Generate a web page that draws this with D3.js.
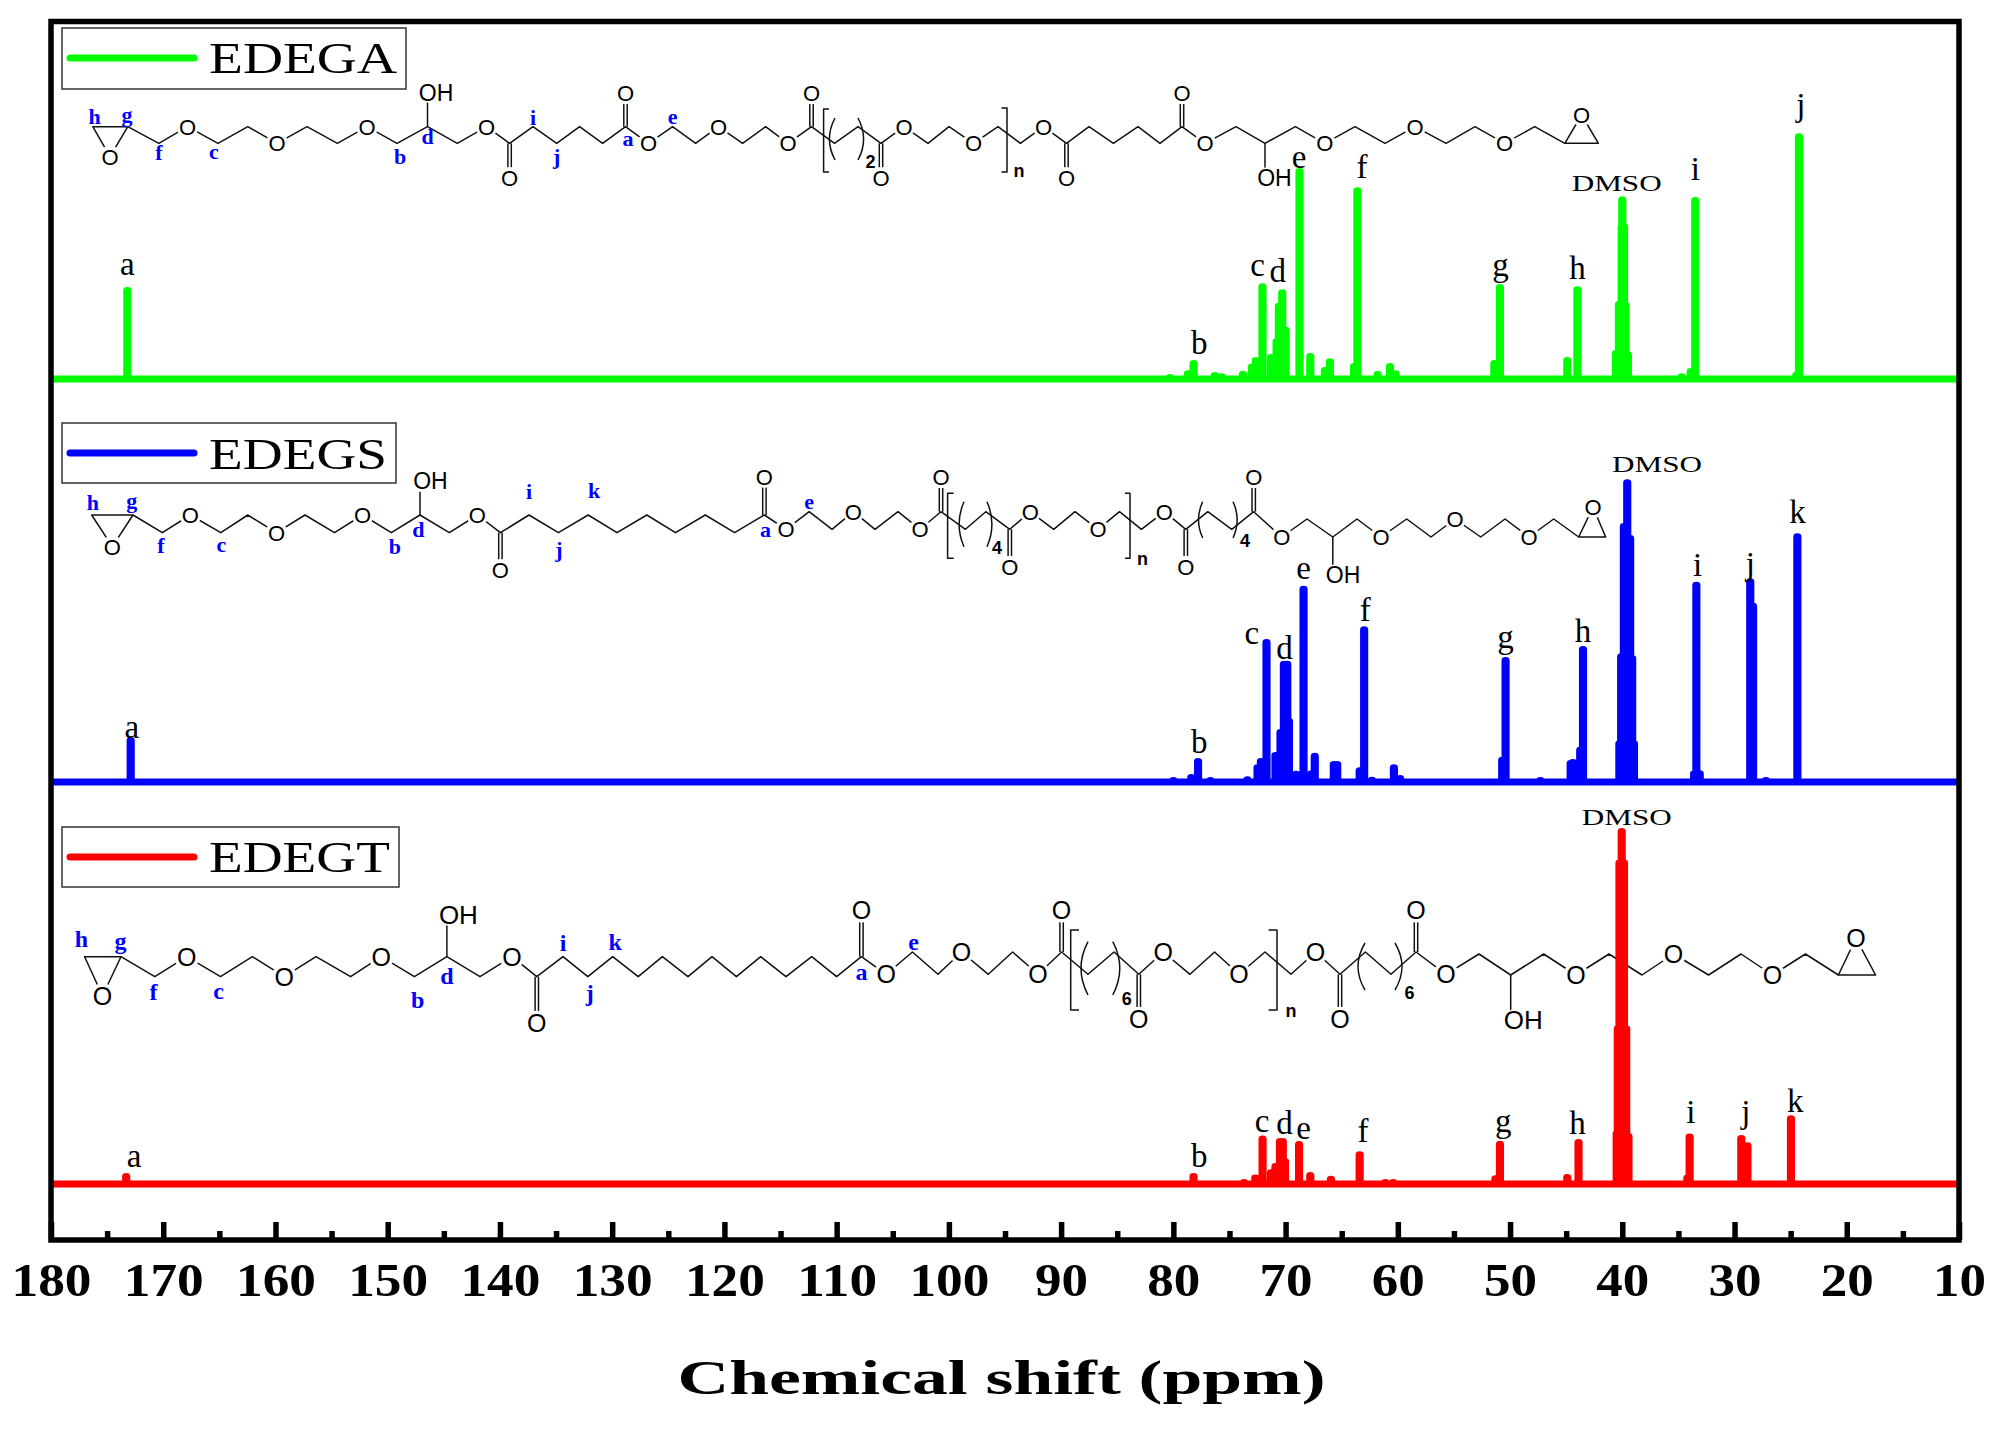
<!DOCTYPE html>
<html>
<head>
<meta charset="utf-8">
<title>13C NMR of EDEGA, EDEGS, EDEGT</title>
<script src="https://d3js.org/d3.v7.min.js"></script>
<style>
    html, body { margin: 0; padding: 0; background: #fff; }
    svg { display: block; }
    text { font-family: "Liberation Serif", serif; fill: #000; }
    .atom { font-family: "Liberation Sans", sans-serif; text-anchor: middle; }
    .hydroxyl { font-family: "Liberation Sans", sans-serif; text-anchor: middle; paint-order: stroke; stroke: #fff; stroke-width: 3px; }
    .site { font-weight: bold; fill: #0000ff; text-anchor: middle; }
    .peak-label { text-anchor: middle; }
    .bond { fill: none; stroke: #111; stroke-width: 1.5px; stroke-linejoin: round; }
</style>
</head>
<body>
<div id="chart"></div>
<script>
//******************************************************************************
//**  Data. Intensity is relative, 100 units = 300px
//******************************************************************************
var majorTicks = [180,170,160,150,140,130,120,110,100,90,80,70,60,50,40,30,20,10];
var minorTicks = [175,165,155,145,135,125,115,105,95,85,75,65,55,45,35,25,15];
var axisTitle = "Chemical shift (ppm)";

var edegaPpm = [173.2,80.3,78.7,78.2,76.3,75.7,73.8,73.0,72.65,72.06,71.3,70.8,70.6,70.3,70.0,68.76,67.8,66.5,66.05,63.9,63.6,61.8,60.7,60.2,51.4,50.9,44.9,44.0,40.57,40.3,40.05,40.0,39.85,39.7,39.5,34.7,33.9,33.5,24.5,24.26];
var edegaInt = [29.5,0.5,1.8,5.2,1.2,0.8,1.6,4,6.2,30.8,7.2,12.5,24.3,28.8,16.3,69.2,7.5,2.9,5.8,4.2,62.8,1.5,4.2,1.8,5.2,30.5,6.2,29.8,8.5,24.9,50.8,59.8,50.8,24.5,8,0.8,2.5,59.5,1.3,80.8];
var edegaLabels = ["a","b","c","d","e","f","g","h","DMSO","i","j"];
var edegaLabelPpm = [173.2,77.7,72.5,70.7,68.8,63.2,50.85,44.0,40.5,33.5,24.1];
var edegaLabelInt = [34.7,8.3,34.4,32.4,70.2,67,34.4,33.3,62.7,66.3,87.7];

var edegsPpm = [172.9,80.0,78.4,77.8,76.7,73.4,72.5,72.2,71.7,70.9,70.45,70.15,69.85,69.7,69.05,68.4,67.7,67.4,65.7,65.4,63.4,63.0,62.3,60.35,59.8,50.7,50.4,47.3,44.6,44.4,43.75,43.5,40.26,40.1,39.86,39.56,39.3,39.12,38.96,33.6,33.4,33.1,28.6,28.35,27.2,24.4];
var edegsInt = [13.9,0.5,1.5,6.9,0.5,0.8,4.8,6.9,46.5,8.9,16.5,39.3,39.3,20.3,2.6,64.3,2.8,8.6,5.9,5.9,3.8,50.8,0.6,4.8,1.2,7.3,40.5,0.5,6.2,6.5,10.6,44.2,12.8,41.8,85.2,99.8,81.2,41.2,12.8,2.8,65.6,2.8,66.8,58.6,0.5,81.8];
var edegsLabels = ["a","b","c","d","e","f","g","h","DMSO","i","j","k"];
var edegsLabelPpm = [172.8,77.7,73.0,70.1,68.4,62.9,50.4,43.5,36.9,33.3,28.6,24.4];
var edegsLabelInt = [14.7,9.7,46,40.9,67.7,53.8,44.8,46.8,103.3,68.7,69,86.3];

var edegtPpm = [173.3,78.2,73.7,72.7,72.05,71.3,70.9,70.5,70.25,70.05,68.8,67.8,65.96,63.4,61.1,60.4,51.3,50.9,44.9,43.9,40.5,40.4,40.25,40.05,39.85,39.65,39.45,34.2,34.0,29.4,28.85,24.97];
var edegtInt = [2.5,2.5,0.5,2,15,3.8,5.9,14.2,14.2,7.5,13.2,2.9,1.6,9.8,0.5,0.5,1.8,13.3,2.2,13.9,16.8,51.8,107,117.5,107,51.8,15.9,2,15.7,15.2,12.8,21.8];
var edegtLabels = ["a","b","c","d","e","f","g","h","DMSO","i","j","k"];
var edegtLabelPpm = [172.6,77.7,72.1,70.1,68.4,63.1,50.6,44.0,39.6,33.9,29,24.6];
var edegtLabelInt = [5.8,5.7,17.4,16.7,14.9,13.9,17.4,16.7,119.7,20.2,20.3,23.9];

//******************************************************************************
//**  Molecule drawings. O() marks an oxygen along the zigzag backbone
//******************************************************************************
var O = function(x){ return {x: x, o: true}; };

var moleculeA = {
    levels: [{from: 0, hi: 126.7, lo: 143.3}],
    epoxideLeft: {a: [92.8,126.7], b: [127.8,126.7], o: [110,156.7]},
    chain: [127.8,158.8,O(187.5),218,247.8,O(277),307,337.4,O(367),397,427.5,457.3,O(486.6),509.6,533,556.7,579.6,602.6,625.5,O(648.5),672.6,695.6,O(718.5),742.6,765.6,O(788),811.5,834.5,858,881,O(904),928,949,O(973.5),998,1020.4,O(1043.5),1066.5,1089,1113.4,1138,1160,1182,O(1205),1236,1265,1295.4,O(1324.8),1355,1385,O(1415),1446,1475,O(1504.6),1534.7,1564.8],
    epoxideRight: {a: [1564.8,143.3], b: [1598.4,143.3], o: [1581.6,115]},
    carbonyls: [[509.6,170,178],[625.5,100.7,93.3],[811.5,100.7,93.3],[881,170,178],[1066.5,170,178],[1182,100.7,93.3]],
    hydroxyls: [[427.5,101.7,436,93],[1265,170,1274.4,178]],
    brackets: [[829,823.6,109,172],[1001.5,1007,108,172]],
    parens: [[835,118,160,-8],[858,118,160,8]],
    subs: [["2",870.6,168],["n",1019,177]],
    sites: [["h",94.5,117],["g",127,115],["f",159,153],["c",214,152],["b",400,157],["d",427.5,137],["i",533,118],["j",556.7,157],["a",628,139],["e",672.6,117]],
    atomSize: 22, siteSize: 22
};

var moleculeS = {
    levels: [{from: 0, hi: 515, lo: 532.7},{from: 23, hi: 511.7, lo: 529.3},{from: 45, hi: 519, lo: 537}],
    epoxideLeft: {a: [91.7,515], b: [133,515], o: [112.3,546.7]},
    chain: [133,162.3,O(190.4),220.8,247.8,O(276.5),305,334.5,O(362.6),391.3,420,449.3,O(477.4),500.4,529,558.4,588.2,617,646.8,675.5,705.3,734.6,764.4,O(786),809.2,832,O(853.4),875,898,O(920),941,965.4,985.8,1009.8,O(1030.2),1053.7,1075,O(1098),1119.5,1141.4,O(1164.4),1185.8,1207.8,1231.7,1253.7,O(1281.7),1307,1332.8,1357,O(1381),1406.7,1431,O(1455),1480.7,1505,O(1529),1553.7,1578.7],
    epoxideRight: {a: [1578.7,537], b: [1605.7,537], o: [1593,507.3]},
    carbonyls: [[500.4,561.7,570],[764.4,485,476.7],[941,485,477.3],[1009.8,556.7,566.7],[1185.8,556.7,566.7],[1253.7,485,477.3]],
    hydroxyls: [[420,491.7,430.4,481],[1332.8,565,1343,575]],
    brackets: [[953.7,947.6,493.3,558.3],[1125,1130,493.3,558.3]],
    parens: [[964,501.7,546.7,-7],[987,501.7,546.7,7],[1202.7,501.7,538,-6],[1233,501.7,538,6]],
    subs: [["4",997,554],["n",1142.4,565],["4",1245,547]],
    sites: [["h",92.8,502.7],["g",131.8,501],["f",161,546],["c",221.4,545],["b",394.8,546.7],["d",418.3,530],["i",529,491.7],["k",594,490.7],["j",559,550],["a",765.6,530],["e",809.2,502.3]],
    atomSize: 22, siteSize: 22
};

var moleculeT = {
    levels: [{from: 0, hi: 956.7, lo: 976.7},{from: 27, hi: 952, lo: 974.3},{from: 50, hi: 954, lo: 975}],
    epoxideLeft: {a: [84.6,956.7], b: [121,956.7], o: [102.5,995.7]},
    chain: [121,154.8,O(186.7),220.5,252.4,O(284.3),316,350.6,O(381.2),414.4,446.9,480,O(512),536.8,563,587.8,612.7,638.2,662.4,688,712,736.4,760.7,786,811.7,836.6,861.4,O(886.3),912.4,938,O(961.6),988.3,1012.6,O(1038),1061.6,1088,1114,1138.8,O(1163.3),1190,1214.6,O(1239),1265,1291,O(1315.6),1340,1365.4,1391,1416,O(1446),1479,1510.7,1543.7,O(1576),1609,1642,O(1673.5),1708.6,1741,O(1772.5),1805.4,1838.4],
    epoxideRight: {a: [1838.4,975], b: [1875.6,975], o: [1856,938.3]},
    carbonyls: [[536.8,1012.7,1023.3],[861.4,921,910],[1061.6,920.7,910],[1138.8,1008,1019.3],[1340,1008,1019.3],[1416,920.7,910]],
    hydroxyls: [[446.9,925,458.4,915],[1510.7,1010,1523.3,1020]],
    brackets: [[1079,1070.7,930,1010],[1268.6,1277,930,1010]],
    parens: [[1088,941.7,995,-10],[1112.8,941.7,995,10],[1365,943,990,-10],[1395,943,990,10]],
    subs: [["6",1126.8,1005],["n",1291,1017],["6",1409.6,999]],
    sites: [["h",81.5,939.3],["g",120.4,941.7],["f",153.5,992.7],["c",218.6,991.7],["b",417.6,1000],["d",446.9,976],["i",563,943.3],["k",615.3,942.3],["j",589.8,993.3],["a",861.4,972.7],["e",913.7,942.7]],
    atomSize: 25, siteSize: 24
};

//******************************************************************************
//**  Layout
//******************************************************************************
var width = 1997, height = 1430;
var frame = {left: 51, right: 1959, top: 21.5, bottom: 1240};
var green = "#00ff00", blue = "#0000ff", red = "#ff0000";
var stretch = 1.2; // the traces are wider than they are tall, like the original

var series = [
    {name: "EDEGA", color: green, ppm: edegaPpm, value: edegaInt, baseline: 379, labels: edegaLabels, labelPpm: edegaLabelPpm, labelValue: edegaLabelInt, molecule: moleculeA,
     legend: {x: 62, y: 28, w: 344, h: 61, lineY: 58, textY: 73, textW: 188}},
    {name: "EDEGS", color: blue, ppm: edegsPpm, value: edegsInt, baseline: 782, labels: edegsLabels, labelPpm: edegsLabelPpm, labelValue: edegsLabelInt, molecule: moleculeS,
     legend: {x: 62, y: 423, w: 334, h: 60, lineY: 453, textY: 469, textW: 178}},
    {name: "EDEGT", color: red, ppm: edegtPpm, value: edegtInt, baseline: 1184, labels: edegtLabels, labelPpm: edegtLabelPpm, labelValue: edegtLabelInt, molecule: moleculeT,
     legend: {x: 62, y: 827, w: 337, h: 60, lineY: 857, textY: 872, textW: 181}}
];

var svg = d3.select("#chart").append("svg")
    .attr("width", width)
    .attr("height", height)
    .attr("viewBox", "0 0 " + width + " " + height);

svg.append("rect").attr("width", width).attr("height", height).attr("fill", "#fff");

var x = d3.scaleLinear().domain([180, 10]).range([frame.left, frame.right]);


//**************************************************************************
//** drawMolecule
//**************************************************************************
var drawMolecule = function(parent, m){
    var g = parent.append("g");

    var points = m.chain.map(function(d, i){
        var level = m.levels.filter(function(l){ return l.from <= i; }).pop();
        return {x: d.o ? d.x : d, y: i % 2 === 0 ? level.hi : level.lo, o: !!d.o};
    });
    var yAt = function(px){
        return points.filter(function(p){ return Math.abs(p.x - px) < 0.01; })[0].y;
    };
    var addOxygen = function(px, py){
        g.append("ellipse")
          .attr("cx", px).attr("cy", py)
          .attr("rx", m.atomSize * 0.5).attr("ry", m.atomSize * 0.5)
          .attr("fill", "#fff");
        g.append("text").attr("class", "atom")
          .attr("x", px).attr("y", py)
          .attr("dy", ".36em")
          .attr("font-size", m.atomSize)
          .text("O");
    };

    var line = d3.line().x(function(d){ return d.x; }).y(function(d){ return d.y; });
    g.append("path").attr("class", "bond").attr("d", line(points));

  // epoxide rings
    [m.epoxideLeft, m.epoxideRight].forEach(function(e){
        g.append("path").attr("class", "bond")
          .attr("d", "M" + e.a + "L" + e.b + "L" + e.o + "Z");
        addOxygen(e.o[0], e.o[1]);
    });

  // double bonds
    m.carbonyls.forEach(function(c){
        [-1.7, 1.7].forEach(function(off){
            g.append("line").attr("class", "bond")
              .attr("x1", c[0] + off).attr("x2", c[0] + off)
              .attr("y1", yAt(c[0])).attr("y2", c[1]);
        });
        addOxygen(c[0], c[2]);
    });

  // hydroxyl groups
    m.hydroxyls.forEach(function(h){
        g.append("line").attr("class", "bond")
          .attr("x1", h[0]).attr("x2", h[0])
          .attr("y1", yAt(h[0])).attr("y2", h[1]);
        g.append("text").attr("class", "hydroxyl")
          .attr("x", h[2]).attr("y", h[3])
          .attr("dy", ".36em")
          .attr("font-size", m.atomSize + 1)
          .text("OH");
    });

  // repeat unit brackets and parentheses
    m.brackets.forEach(function(b){
        g.append("path").attr("class", "bond")
          .attr("d", "M" + b[0] + "," + b[2] + "H" + b[1] + "V" + b[3] + "H" + b[0]);
    });
    m.parens.forEach(function(p){
        var mid = (p[1] + p[2]) / 2;
        g.append("path").attr("class", "bond")
          .attr("d", "M" + p[0] + "," + p[1] + "Q" + (p[0] + p[3] * 1.4) + "," + mid + " " + p[0] + "," + p[2]);
    });
    m.subs.forEach(function(s){
        g.append("text")
          .attr("x", s[1]).attr("y", s[2])
          .attr("text-anchor", "middle")
          .style("font-family", "Liberation Sans")
          .attr("font-weight", "bold")
          .attr("font-size", 18)
          .text(s[0]);
    });

  // backbone oxygens
    points.filter(function(p){ return p.o; }).forEach(function(p){
        addOxygen(p.x, p.y);
    });

  // blue site letters
    m.sites.forEach(function(s){
        g.append("text").attr("class", "site")
          .attr("x", s[1]).attr("y", s[2])
          .attr("dy", ".32em")
          .attr("font-size", m.siteSize)
          .text(s[0]);
    });
};


//**************************************************************************
//** drawSpectrum
//**************************************************************************
var drawSpectrum = function(parent, s){
    var y = d3.scaleLinear().domain([0, 100]).range([s.baseline, s.baseline - 300]);

  // every peak rises from the baseline and falls back to it
    var points = [[180, 0]];
    s.ppm.forEach(function(p, i){
        points.push([p, 0], [p, s.value[i]], [p, 0]);
    });
    points.push([10, 0]);

    var line = d3.line()
        .x(function(d){ return x(d[0]) / stretch; })
        .y(function(d){ return y(d[1]); });

    parent.append("path")
        .attr("transform", "scale(" + stretch + ",1)")
        .attr("d", line(points))
        .attr("fill", "none")
        .attr("stroke", s.color)
        .attr("stroke-width", 6.8)
        .attr("stroke-linejoin", "round");

    parent.selectAll(null)
        .data(s.labels)
      .enter().append("text")
        .attr("class", "peak-label")
        .attr("x", function(d, i){ return x(s.labelPpm[i]); })
        .attr("y", function(d, i){ return y(s.labelValue[i]); })
        .attr("font-size", function(d){ return d === "DMSO" ? 24 : 33; })
        .attr("textLength", function(d){ return d === "DMSO" ? 90 : null; })
        .attr("lengthAdjust", "spacingAndGlyphs")
        .text(function(d){ return d; });
};


//**************************************************************************
//** drawLegend
//**************************************************************************
var drawLegend = function(parent, s){
    var l = s.legend;
    var g = parent.append("g");
    g.append("rect")
        .attr("x", l.x).attr("y", l.y)
        .attr("width", l.w).attr("height", l.h)
        .attr("fill", "#fff")
        .attr("stroke", "#333")
        .attr("stroke-width", 1.5);
    g.append("line")
        .attr("x1", l.x + 8).attr("x2", l.x + 132)
        .attr("y1", l.lineY).attr("y2", l.lineY)
        .attr("stroke", s.color)
        .attr("stroke-width", 7)
        .attr("stroke-linecap", "round");
    g.append("text")
        .attr("x", l.x + 147).attr("y", l.textY)
        .attr("font-size", 45)
        .attr("textLength", l.textW)
        .attr("lengthAdjust", "spacingAndGlyphs")
        .text(s.name);
};


//**************************************************************************
//** Render
//**************************************************************************
series.forEach(function(s){ drawMolecule(svg, s.molecule); });
series.forEach(function(s){ drawSpectrum(svg, s); });
series.forEach(function(s){ drawLegend(svg, s); });

// frame
svg.append("rect")
    .attr("x", frame.left).attr("y", frame.top)
    .attr("width", frame.right - frame.left)
    .attr("height", frame.bottom - frame.top)
    .attr("fill", "none")
    .attr("stroke", "#000")
    .attr("stroke-width", 5.5);

// axes
var minorAxis = svg.append("g")
    .attr("transform", "translate(0," + frame.bottom + ")")
    .call(d3.axisBottom(x).tickValues(minorTicks).tickSizeInner(-9).tickSizeOuter(0).tickFormat(""));
minorAxis.select(".domain").remove();
minorAxis.selectAll("line").attr("stroke", "#000").attr("stroke-width", 5.5);

var majorAxis = svg.append("g")
    .attr("transform", "translate(0," + frame.bottom + ")")
    .call(d3.axisBottom(x).tickValues(majorTicks).tickSizeInner(-18).tickSizeOuter(0).tickFormat(d3.format("d")));
majorAxis.select(".domain").remove();
majorAxis.selectAll("line").attr("stroke", "#000").attr("stroke-width", 5.5);
majorAxis.selectAll("text")
    .attr("y", 56)
    .attr("dy", 0)
    .attr("fill", "#000")
    .attr("font-family", null)
    .style("font-family", "Liberation Serif")
    .style("font-weight", "bold")
    .style("font-size", "46px")
    .attr("textLength", function(d){ return d >= 100 ? 80 : 53; })
    .attr("lengthAdjust", "spacingAndGlyphs");

svg.append("text")
    .attr("x", 1001.5).attr("y", 1394)
    .attr("text-anchor", "middle")
    .attr("font-weight", "bold")
    .attr("font-size", 48)
    .attr("textLength", 648)
    .attr("lengthAdjust", "spacingAndGlyphs")
    .text(axisTitle);
</script>
</body>
</html>
